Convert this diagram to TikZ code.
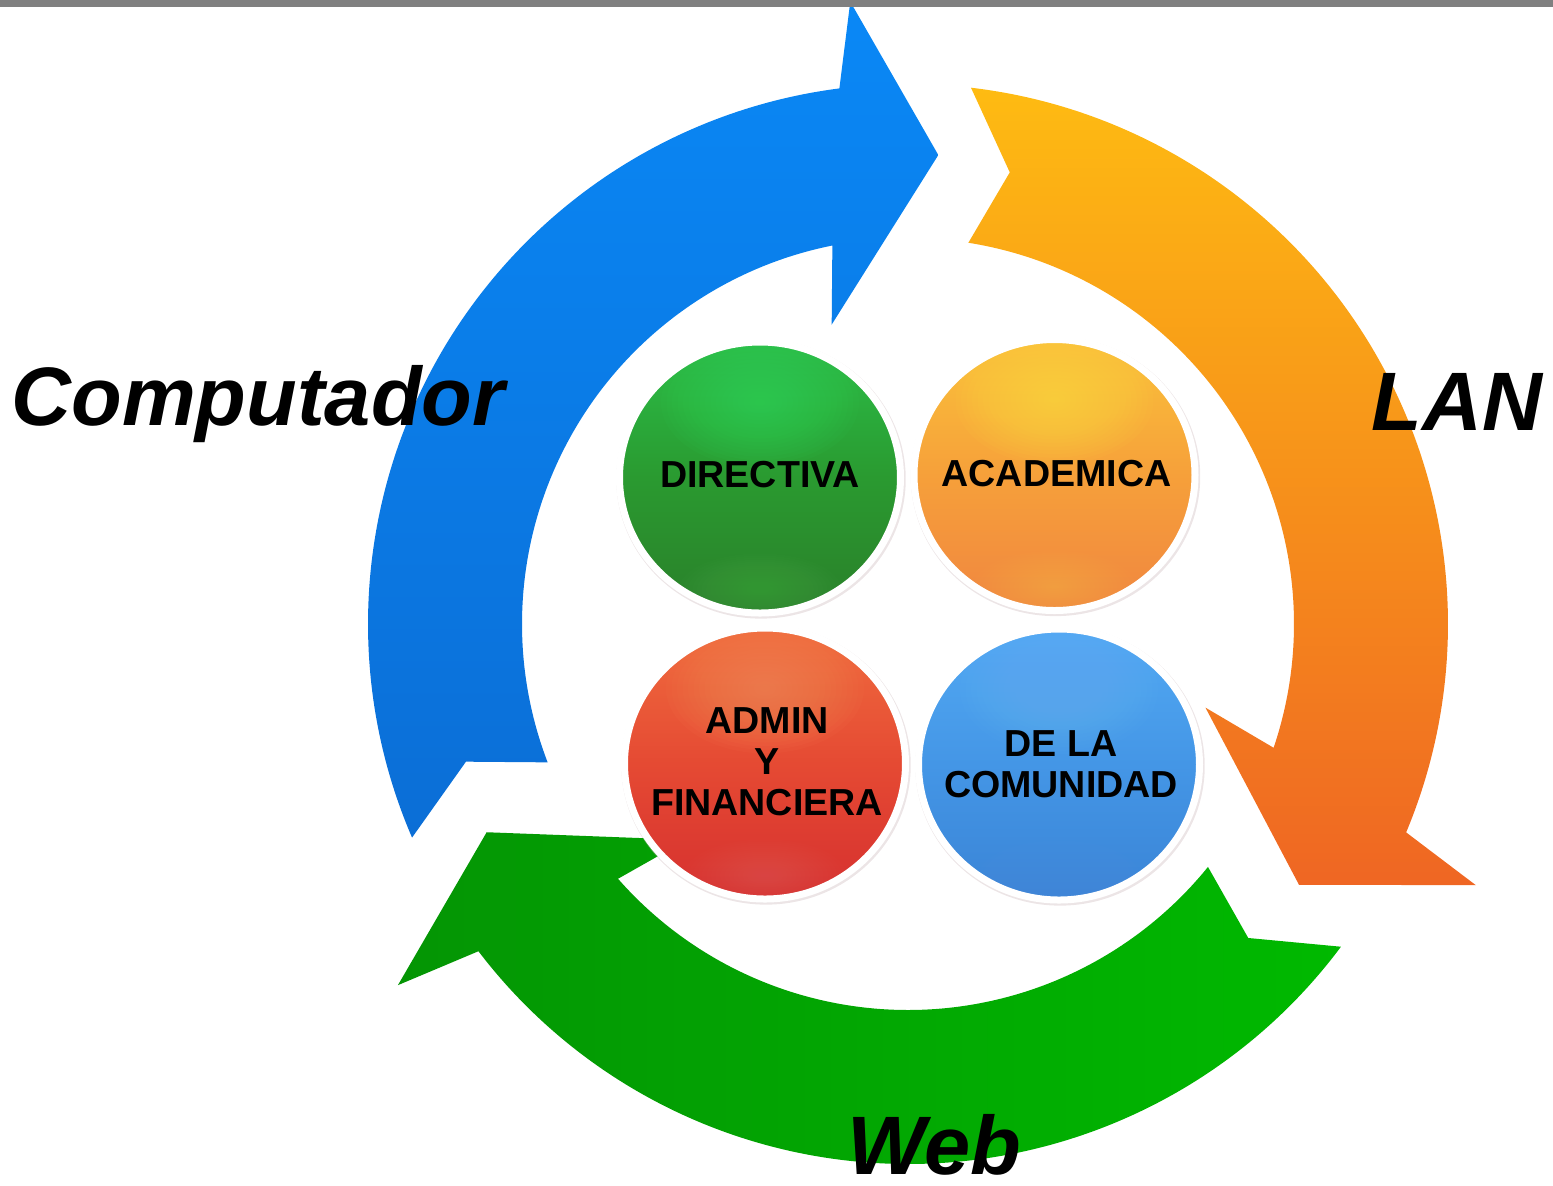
\documentclass[tikz,border=0pt]{standalone}
\usepackage{fontspec}
\usepackage{tikz}
\usetikzlibrary{shapes.geometric,shadows}

\newfontfamily\arialfont{Liberation Sans}

\definecolor{barGray}{HTML}{808080}
\definecolor{blueTop}{HTML}{0A88F6}
\definecolor{blueBot}{HTML}{0B6ED6}
\definecolor{orTop}{HTML}{FEBB12}
\definecolor{orBot}{HTML}{EF6623}
\definecolor{grLeft}{HTML}{049504}
\definecolor{grRight}{HTML}{00B900}
\definecolor{dirTop}{HTML}{2BBE48}
\definecolor{dirMid}{HTML}{2A9A30}
\definecolor{dirBot}{HTML}{2A802A}
\definecolor{dirHi}{HTML}{36D85C}
\definecolor{dirLo}{HTML}{4AAE4A}
\definecolor{acaTop}{HTML}{FAC23A}
\definecolor{acaMid}{HTML}{F6A03A}
\definecolor{acaBot}{HTML}{F08640}
\definecolor{acaHi}{HTML}{FFDF48}
\definecolor{acaLo}{HTML}{F7BC50}
\definecolor{admTop}{HTML}{F06C3E}
\definecolor{admMid}{HTML}{E54A33}
\definecolor{admBot}{HTML}{D6302F}
\definecolor{admHi}{HTML}{FA8E5A}
\definecolor{admLo}{HTML}{E45C5C}
\definecolor{comTop}{HTML}{52A9F3}
\definecolor{comMid}{HTML}{4496E6}
\definecolor{comBot}{HTML}{3A84D6}
\definecolor{comHi}{HTML}{66B4F8}
\definecolor{comLo}{HTML}{5898E4}
\definecolor{haloPink}{HTML}{C9B4B8}

\begin{document}
\begin{tikzpicture}[
  bluearrow/.style={top color=blueTop, bottom color=blueBot},
  orangearrow/.style={top color=orTop, bottom color=orBot},
  greenarrow/.style={left color=grLeft, right color=grRight},
  bubble/.style n args={5}{ellipse, minimum width=2.81cm, minimum height=2.71cm,
    inner sep=0pt, draw=white, line width=0.7mm,
    top color=#1, bottom color=#3, middle color=#2,
    drop shadow={shadow scale=1.03, shadow xshift=0.01cm, shadow yshift=-0.015cm,
      opacity=0.35, fill=haloPink},
    path picture={
      \foreach \k in {1,...,18}{
        \fill[#4, opacity=0.06]
          ([yshift=0.75cm]path picture bounding box.center) ellipse (0.055*\k cm and 0.036*\k cm);
        \fill[#5, opacity=0.04]
          ([yshift=-1.12cm]path picture bounding box.center) ellipse (0.045*\k cm and 0.02*\k cm);
      }
    }},
  bubbletext/.style={inner sep=0pt, text=black, align=center,
    font=\arialfont\bfseries\fontsize{10.7}{11.7}\selectfont},
  biglabel/.style={inner sep=0pt, text=black,
    font=\arialfont\bfseries\itshape\fontsize{23.6}{28}\selectfont}
]
\useasboundingbox (-9.08,-5.61) rectangle (6.45,6.24);

% cycle arrows
\path[bluearrow] (203.3:5.40) arc[start angle=203.3, end angle=97.3, radius=5.40]
  -- (95.3:6.25) -- (86.3:4.70) -- (104.3:3.09) -- (101.3:3.86)
  arc[start angle=101.3, end angle=201, radius=3.86] -- (197.3:4.63) -- cycle;
\path[orangearrow] (83.3:5.40) arc[start angle=83.3, end angle=-22.7, radius=5.40]
  -- (-24.7:6.25) -- (-33.7:4.70) -- (-15.7:3.09) -- (-18.7:3.86)
  arc[start angle=-18.7, end angle=81, radius=3.86] -- (77.3:4.63) -- cycle;
\path[greenarrow] (-36.7:5.40) arc[start angle=-36.7, end angle=-142.7, radius=5.40]
  -- (-144.7:6.25) -- (-153.7:4.70) -- (-135.7:3.09) -- (-138.7:3.86)
  arc[start angle=-138.7, end angle=-39, radius=3.86] -- (-42.7:4.63) -- cycle;

% bubbles
\node[bubble={dirTop}{dirMid}{dirBot}{dirHi}{dirLo}] (dir) at (-1.48,1.465) {};
\node[bubble={acaTop}{acaMid}{acaBot}{acaHi}{acaLo}] (acad) at (1.465,1.49) {};
\node[bubble={admTop}{admMid}{admBot}{admHi}{admLo}] (admin) at (-1.43,-1.395) {};
\node[bubble={comTop}{comMid}{comBot}{comHi}{comLo}] (comu) at (1.51,-1.405) {};
\node[bubbletext] (dirtxt) at ([yshift=0.03cm]dir.center) {DIRECTIVA};
\node[bubbletext] (acadtxt) at ([xshift=0.02cm,yshift=0.01cm]acad.center) {ACADEMICA};
\node[bubbletext] (admintxt) at ([xshift=0.02cm,yshift=0.02cm]admin.center) {ADMIN\\Y\\FINANCIERA};
\node[bubbletext] (comutxt) at ([xshift=0.02cm]comu.center) {DE LA\\COMUNIDAD};

% labels
\node[biglabel, anchor=base west] (pc) at (-8.97,1.99) {Computador};
\node[biglabel, anchor=base west] (lan) at (4.63,1.94) {LAN};
\node[biglabel, anchor=base west] (web) at (-0.61,-5.50) {Web};

% top rule
\fill[barGray] (-9.08,6.17) rectangle (6.45,6.24);
\end{tikzpicture}
\end{document}
